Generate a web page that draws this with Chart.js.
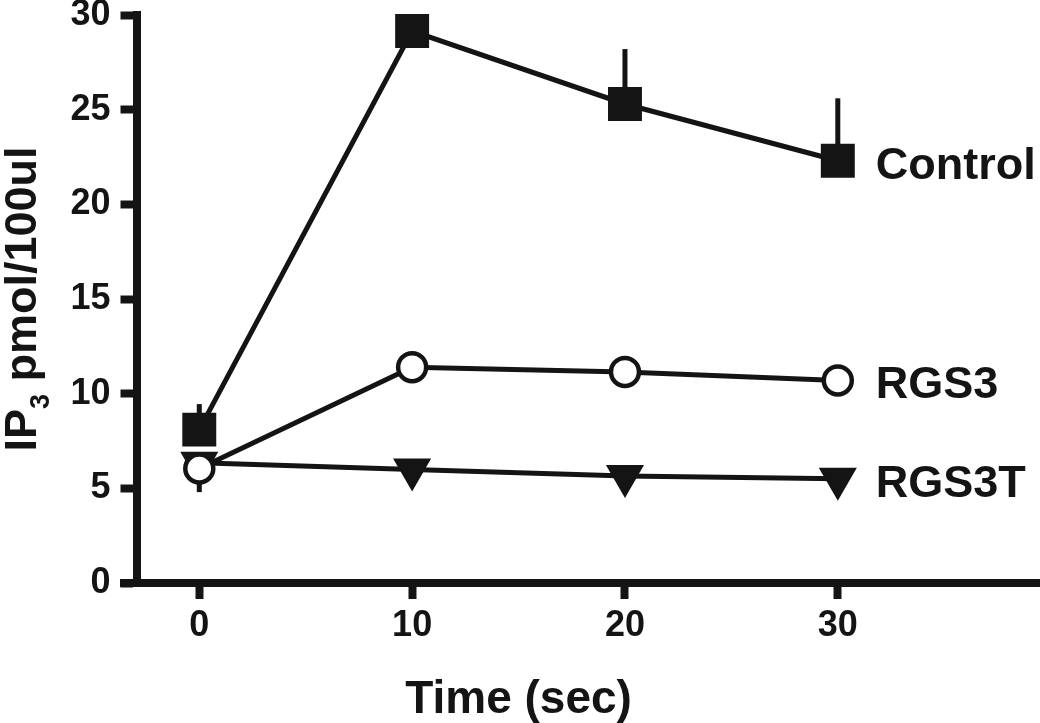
<!DOCTYPE html>
<html>
<head>
<meta charset="utf-8">
<script src="https://cdn.jsdelivr.net/npm/chart.js@4"></script>
<style>
  html, body { margin: 0; padding: 0; background: #fff; }
  canvas { display: block; }
</style>
</head>
<body>
<canvas id="chart" width="1040" height="723"></canvas>
<script>
// time points (sec)
const times = [0, 10, 20, 30];
const xTicks = [0, 10, 20, 30];
const yTicks = [0, 5, 10, 15, 20, 25, 30];

// IP3 pmol/100ul
const controlVals = [8.1, 29.15, 25.3, 22.3];
const rgs3Vals = [6.05, 11.4, 11.15, 10.7];
const rgs3tVals = [6.35, 6.0, 5.65, 5.5];

// one-sided error bars
const controlErrUp = [1.35, 0, 2.9, 3.3];
const rgs3ErrDown = [1.25, 0, 0, 0];

const seriesNames = ['Control', 'RGS3', 'RGS3T'];

const INK = '#141414';
const FONT = '"Liberation Sans", Arial, Helvetica, sans-serif';

const toPoints = (vals) => times.map((t, i) => ({ x: t, y: vals[i] }));

const extras = {
  id: 'extras',
  beforeDatasetsDraw(chart) {
    const { ctx, scales: { x, y } } = chart;
    ctx.save();
    ctx.strokeStyle = INK;
    ctx.lineWidth = 5;
    ctx.lineCap = 'butt';
    const bar = (t, v, e) => {
      if (!e) return;
      ctx.beginPath();
      ctx.moveTo(x.getPixelForValue(t), y.getPixelForValue(v));
      ctx.lineTo(x.getPixelForValue(t), y.getPixelForValue(v + e));
      ctx.stroke();
    };
    times.forEach((t, i) => {
      bar(t, controlVals[i], controlErrUp[i]);
      bar(t, rgs3Vals[i], -rgs3ErrDown[i]);
    });
    ctx.restore();
  },
  afterDraw(chart) {
    const { ctx, chartArea, scales: { x, y } } = chart;
    ctx.save();
    ctx.fillStyle = INK;
    ctx.strokeStyle = INK;

    // x axis runs from the y tick ends all the way to the right edge
    ctx.lineWidth = 8;
    ctx.beginPath();
    ctx.moveTo(120, chartArea.bottom);
    ctx.lineTo(chart.width, chartArea.bottom);
    ctx.stroke();

    // series labels next to the last point
    ctx.font = 'bold 45px ' + FONT;
    ctx.textAlign = 'left';
    ctx.textBaseline = 'alphabetic';
    const last = times.length - 1;
    [controlVals, rgs3Vals, rgs3tVals].forEach((vals, i) => {
      ctx.fillText(seriesNames[i], x.getPixelForValue(times[last]) + 38, y.getPixelForValue(vals[last]) + 18);
    });

    // x axis title, centred under the data range
    ctx.font = 'bold 46px ' + FONT;
    ctx.textAlign = 'center';
    ctx.fillText('Time (sec)', x.getPixelForValue(15), 713);

    // y axis title with subscript
    const mainFont = 'bold 45px ' + FONT;
    const subFont = 'bold 27px ' + FONT;
    ctx.font = mainFont;
    const w1 = ctx.measureText('IP').width;
    const w3 = ctx.measureText(' pmol/100ul').width;
    ctx.font = subFont;
    const w2 = ctx.measureText('3').width;
    const total = w1 + w2 + w3;
    ctx.translate(36, (chartArea.top + chartArea.bottom) / 2);
    ctx.rotate(-Math.PI / 2);
    ctx.textAlign = 'left';
    let cx = -total / 2;
    ctx.font = mainFont;
    ctx.fillText('IP', cx, 0);
    cx += w1;
    ctx.font = subFont;
    ctx.fillText('3', cx, 13);
    cx += w2;
    ctx.font = mainFont;
    ctx.fillText(' pmol/100ul', cx, 0);
    ctx.restore();
  }
};

new Chart(document.getElementById('chart'), {
  type: 'line',
  data: {
    datasets: [
      {
        label: seriesNames[0],
        data: toPoints(controlVals),
        borderColor: INK,
        borderWidth: 5,
        pointStyle: 'rect',
        pointRadius: 24,
        pointBackgroundColor: INK,
        pointBorderColor: INK,
        pointBorderWidth: 0,
        clip: false
      },
      {
        label: seriesNames[1],
        data: toPoints(rgs3Vals),
        borderColor: INK,
        borderWidth: 5,
        pointStyle: 'circle',
        pointRadius: 14,
        pointBackgroundColor: '#ffffff',
        pointBorderColor: INK,
        pointBorderWidth: 4.5,
        clip: false
      },
      {
        label: seriesNames[2],
        data: toPoints(rgs3tVals),
        borderColor: INK,
        borderWidth: 5,
        pointStyle: 'triangle',
        pointRotation: 180,
        pointRadius: 22,
        pointBackgroundColor: INK,
        pointBorderColor: INK,
        pointBorderWidth: 0,
        clip: false
      }
    ]
  },
  options: {
    responsive: false,
    devicePixelRatio: 1,
    animation: false,
    layout: { autoPadding: false, padding: { top: 15, right: 0, bottom: 0, left: 0 } },
    plugins: { legend: { display: false }, tooltip: { enabled: false } },
    elements: { line: { tension: 0 } },
    scales: {
      x: {
        type: 'linear',
        min: -2.95,
        max: 39.5,
        afterBuildTicks: (s) => { s.ticks = xTicks.map((v) => ({ value: v })); },
        afterFit: (s) => { s.height = 140; s.paddingLeft = 0; s.paddingRight = 0; },
        grid: { drawOnChartArea: false, drawTicks: true, tickLength: 16, tickWidth: 8, tickColor: INK },
        border: { display: true, width: 8, color: INK },
        ticks: { color: INK, padding: 5, font: { family: FONT, size: 36, weight: 'bold' } }
      },
      y: {
        type: 'linear',
        min: 0,
        max: 30,
        afterBuildTicks: (s) => { s.ticks = yTicks.map((v) => ({ value: v })); },
        afterFit: (s) => { s.width = 136.5; s.paddingTop = 0; s.paddingBottom = 0; },
        grid: { drawOnChartArea: false, drawTicks: true, tickLength: 16, tickWidth: 8, tickColor: INK },
        border: { display: true, width: 8, color: INK },
        ticks: { color: INK, padding: 10, font: { family: FONT, size: 36, weight: 'bold' } }
      }
    }
  },
  plugins: [extras]
});
</script>
</body>
</html>
